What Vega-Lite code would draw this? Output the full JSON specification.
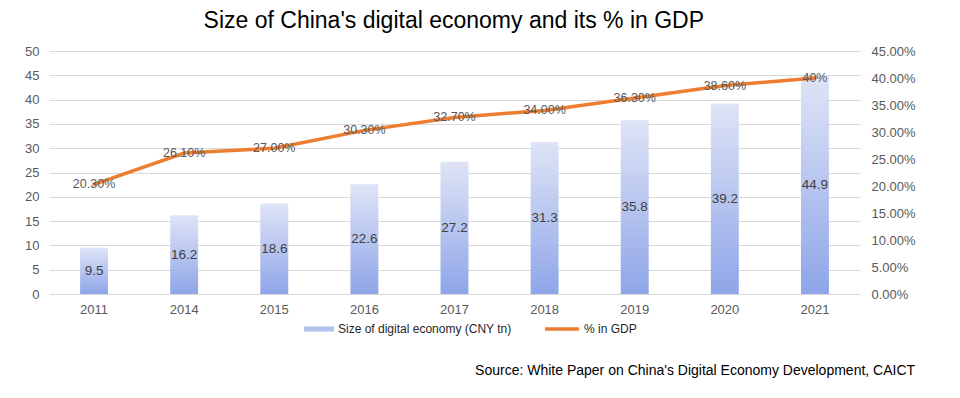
{
  "$schema": "https://vega.github.io/schema/vega-lite/v6.json",
  "background": "white",
  "padding": {"left": 24, "top": 10, "right": 5, "bottom": 5},
  "config": {"font": "Liberation Sans", "view": {"stroke": null}, "concat": {"spacing": 0}},
  "title": {"text": "Size of China's digital economy and its % in GDP", "fontSize": 23, "fontWeight": "normal", "color": "#000000", "anchor": "middle", "offset": 12, "dx": -16},
  "vconcat": [
    {
      "width": 811,
      "height": 243,
      "title": {"text": "Source: White Paper on China's Digital Economy Development, CAICT", "orient": "bottom", "anchor": "end", "fontSize": 14, "fontWeight": "normal", "color": "#000000", "offset": 48},
      "data": {"values": [
        {"year": "2011", "size": 9.5, "pct": 0.203, "pct_label": "20.30%"},
        {"year": "2014", "size": 16.2, "pct": 0.261, "pct_label": "26.10%"},
        {"year": "2015", "size": 18.6, "pct": 0.27, "pct_label": "27.00%"},
        {"year": "2016", "size": 22.6, "pct": 0.303, "pct_label": "30.30%"},
        {"year": "2017", "size": 27.2, "pct": 0.327, "pct_label": "32.70%"},
        {"year": "2018", "size": 31.3, "pct": 0.34, "pct_label": "34.00%"},
        {"year": "2019", "size": 35.8, "pct": 0.363, "pct_label": "36.30%"},
        {"year": "2020", "size": 39.2, "pct": 0.386, "pct_label": "38.60%"},
        {"year": "2021", "size": 44.9, "pct": 0.40, "pct_label": "40%"}
      ]},
      "encoding": {
        "x": {"field": "year", "type": "nominal", "sort": null,
          "scale": {"paddingInner": 0.69, "paddingOuter": 0.345},
          "axis": {"title": null, "labelAngle": 0, "domain": false, "ticks": false, "grid": false, "labelFontSize": 13, "labelColor": "#595959", "labelPadding": 9}}
      },
      "layer": [
        {
          "mark": {"type": "bar"},
          "encoding": {
            "y": {"field": "size", "type": "quantitative", "scale": {"domain": [0, 50]},
              "axis": {"title": null, "orient": "left", "values": [0, 5, 10, 15, 20, 25, 30, 35, 40, 45, 50], "domain": false, "ticks": false, "grid": true, "gridColor": "#d9d9d9", "gridWidth": 1, "labelFontSize": 13, "labelColor": "#595959", "labelPadding": 10}},
            "fill": {
              "condition": {"test": "true", "value": {"gradient": "linear", "x1": 0, "y1": 0, "x2": 0, "y2": 1, "stops": [{"offset": 0, "color": "#dfe4f6"}, {"offset": 1, "color": "#8ea5e8"}]}},
              "datum": "Size of digital economy (CNY tn)",
              "scale": {"range": ["#b3c1ee"]},
              "legend": {"orient": "none", "legendX": 255, "legendY": 263, "title": null, "symbolType": "M-1,-0.17H1V0.17H-1Z", "symbolSize": 900, "symbolStrokeWidth": 0, "labelFontSize": 12, "labelLimit": 0, "labelColor": "#262626", "labelOffset": 4}
            }
          }
        },
        {
          "mark": {"type": "text", "fontSize": 13.5, "color": "#404040"},
          "encoding": {
            "y": {"field": "size", "type": "quantitative", "scale": {"domain": [0, 100]}, "axis": null},
            "text": {"field": "size", "type": "quantitative", "format": ".1f"}
          }
        },
        {
          "mark": {"type": "line", "strokeWidth": 3.5, "strokeCap": "round"},
          "encoding": {
            "y": {"field": "pct", "type": "quantitative", "scale": {"domain": [0, 0.45]},
              "axis": {"title": null, "orient": "right", "values": [0, 0.05, 0.1, 0.15, 0.2, 0.25, 0.3, 0.35, 0.4, 0.45], "format": ".2%", "domain": false, "ticks": false, "grid": false, "labelFontSize": 13, "labelColor": "#595959", "labelPadding": 11}},
            "stroke": {
              "datum": "% in GDP",
              "scale": {"range": ["#ED7D31"]},
              "legend": {"orient": "none", "legendX": 494, "legendY": 259, "title": null, "symbolType": "stroke", "symbolSize": 1150, "symbolStrokeWidth": 3.5, "labelFontSize": 12, "labelLimit": 0, "labelColor": "#262626", "labelOffset": 3}
            }
          }
        },
        {
          "mark": {"type": "text", "fontSize": 12.5, "color": "#595959"},
          "encoding": {
            "y": {"field": "pct", "type": "quantitative", "scale": {"domain": [0, 0.45]}, "axis": null},
            "text": {"field": "pct_label", "type": "nominal"}
          }
        }
      ],
      "resolve": {"scale": {"y": "independent"}}
    }
  ]
}
